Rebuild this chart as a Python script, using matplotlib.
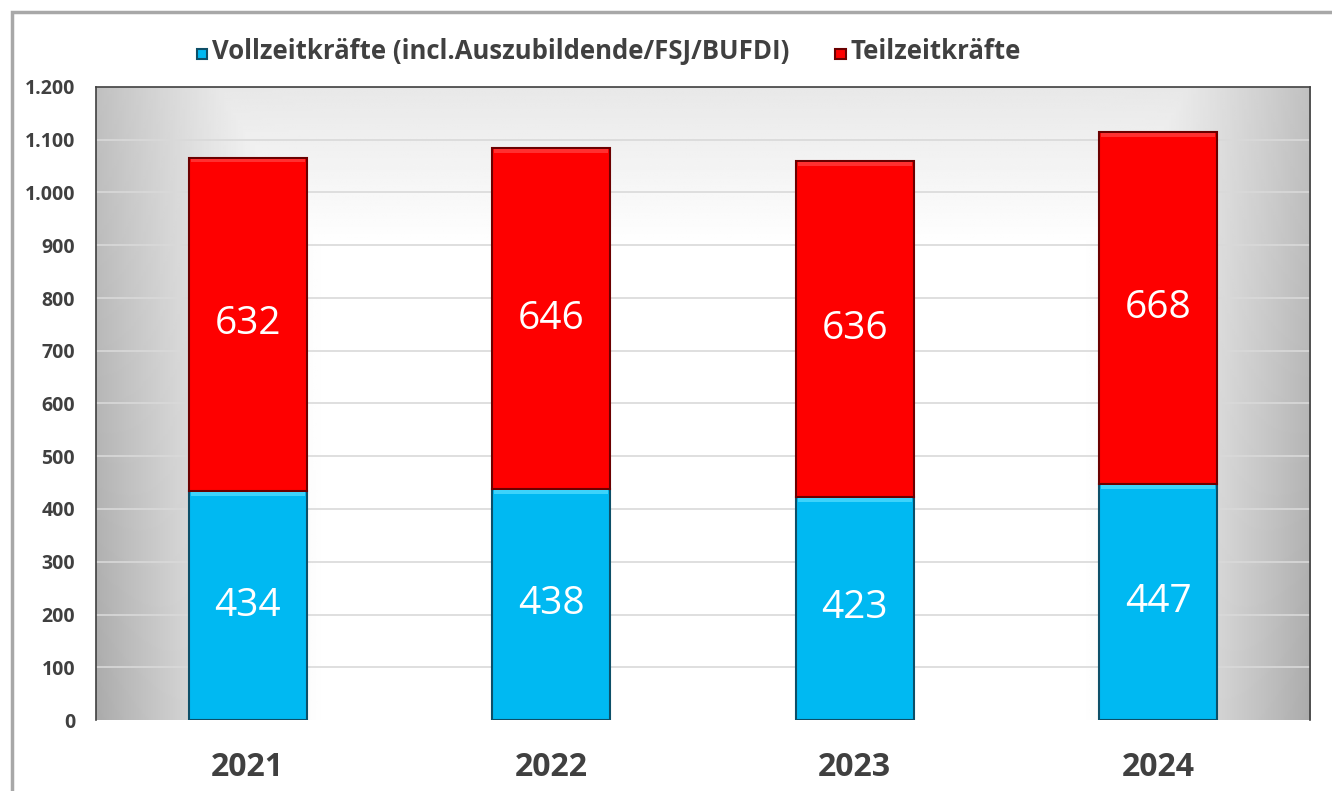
import matplotlib.pyplot as plt
import matplotlib.patches as patches
import numpy as np

# Daten
jahre = ['2021', '2022', '2023', '2024']
vollzeit = [434, 438, 423, 447]
teilzeit = [632, 646, 636, 668]
serien = ['Vollzeitkräfte (incl.Auszubildende/FSJ/BUFDI)', 'Teilzeitkräfte']
y_ticks = [0, 100, 200, 300, 400, 500, 600, 700, 800, 900, 1000, 1100, 1200]

# Farben
blau = '#00b9f2'
blau_hell = '#3dd3fb'
blau_rand = '#0d4f68'
rot = '#fe0000'
rot_hell = '#ff3030'
rot_rand = '#6b0000'
text_grau = '#404040'

plt.rcParams['font.family'] = ['Open Sans', 'DejaVu Sans']

fig = plt.figure(figsize=(13.32, 7.91), dpi=100)
ax = fig.add_axes([96 / 1332, 1 - 720 / 791, 1214 / 1332, 633 / 791])

# Rahmen um das ganze Diagramm
fig.patches.append(patches.Rectangle((12 / 1332, -0.05), 1.1, 1 - 12 / 791 + 0.05,
                                     transform=fig.transFigure, fill=False,
                                     edgecolor='#a8a8a8', linewidth=2.5))

# Hintergrund mit Verlauf (grau an den Seiten, weiss in der Mitte)
u = np.linspace(0, 1, 500)
v = np.linspace(0, 1, 300)
U, V = np.meshgrid(u, v)
ex = np.clip((np.abs(2 * U - 1) - 0.62) / 0.38, 0, 1) ** 1.3
rand = 0.30 * ex * (0.8 + 0.3 * (1 - V))
oben = 0.09 * np.clip((V - 0.75) / 0.25, 0, 1)
hell = 1 - np.maximum(rand, oben) - 0.3 * rand * oben
ax.imshow(hell, cmap='gray', vmin=0, vmax=1, extent=(-0.5, 3.5, 0, 1200),
          origin='lower', aspect='auto', zorder=0, interpolation='bilinear')

pos = np.arange(len(jahre))
breite = 0.39
kante = 7  # Hoehe des hellen Streifens oben

for t in y_ticks[1:]:
    ax.axhline(t, color='#d9d9d9', linewidth=1.2, zorder=1)

ax.bar(pos, vollzeit, breite, color=blau, edgecolor=blau_rand, linewidth=1.5,
       zorder=3, label=serien[0])
ax.bar(pos, teilzeit, breite, bottom=vollzeit, color=rot, edgecolor=rot_rand,
       linewidth=1.5, zorder=3, label=serien[1])
# heller Streifen fuer den Kanteneffekt
summe = [a + b for a, b in zip(vollzeit, teilzeit)]
ax.bar(pos, kante, breite * 0.96, bottom=[w - kante - 2 for w in vollzeit],
       color=blau_hell, linewidth=0, zorder=4)
ax.bar(pos, kante, breite * 0.96, bottom=[w - kante - 2 for w in summe],
       color=rot_hell, linewidth=0, zorder=4)

# Werte in die Balken
for i in range(len(jahre)):
    ax.text(pos[i], vollzeit[i] / 2, str(vollzeit[i]), ha='center', va='center',
            color='white', fontsize=28, zorder=5)
    ax.text(pos[i], vollzeit[i] + teilzeit[i] / 2, str(teilzeit[i]), ha='center',
            va='center', color='white', fontsize=28, zorder=5)

ax.set_xlim(-0.5, 3.5)
ax.set_ylim(0, 1200)
ax.set_yticks(y_ticks)
ax.set_yticklabels([f'{t:,}'.replace(',', '.') for t in y_ticks],
                   fontsize=14, fontweight='bold', color=text_grau)
ax.set_xticks(pos)
ax.set_xticklabels(jahre, fontsize=23, fontweight='bold', color=text_grau)
ax.tick_params(axis='both', length=0)
ax.tick_params(axis='x', pad=22)
ax.tick_params(axis='y', pad=15)

for s in ['top', 'left', 'right']:
    ax.spines[s].set_color('#404040')
    ax.spines[s].set_linewidth(1.2)
ax.spines['bottom'].set_visible(False)

leg = ax.legend(handles=ax.containers[:2], labels=serien, loc='lower left',
                bbox_to_anchor=(0.083, 1.035), ncol=2, frameon=False,
                handlelength=0.75, handleheight=0.75, handletextpad=0.35,
                columnspacing=3.3, borderaxespad=0, borderpad=0)
for txt in leg.get_texts():
    txt.set_fontsize(18.5)
    txt.set_fontweight('bold')
    txt.set_color(text_grau)

fig.savefig('out.png', dpi=100)
